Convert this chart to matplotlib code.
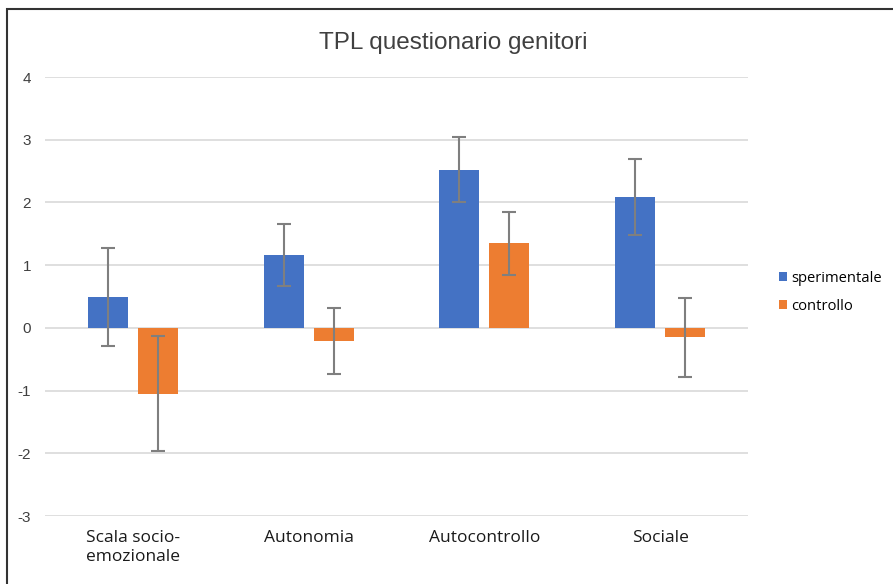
import numpy as np
import matplotlib.pyplot as plt
from matplotlib.patches import Rectangle

plt.rcParams["axes.unicode_minus"] = False

categories = ["Scala socio-\nemozionale", "Autonomia", "Autocontrollo", "Sociale"]
sperimentale = [0.49, 1.16, 2.52, 2.09]
sperimentale_err = [0.78, 0.50, 0.52, 0.61]
controllo = [-1.05, -0.21, 1.35, -0.15]
controllo_err = [0.92, 0.52, 0.50, 0.63]

fig = plt.figure(figsize=(8.93, 5.84), dpi=100)
ax = fig.add_axes([0.0504, 0.1164, 0.7872, 0.7517])

x = np.arange(len(categories))
w = 0.227
off = 0.142
ekw = dict(ecolor="#7f7f7f", elinewidth=1.5, capsize=5, capthick=1.5)
ax.bar(x - off, sperimentale, w, color="#4472C4", yerr=sperimentale_err,
       error_kw=ekw, label="sperimentale", zorder=3)
ax.bar(x + off, controllo, w, color="#ED7D31", yerr=controllo_err,
       error_kw=ekw, label="controllo", zorder=3)

ax.set_xlim(-0.5, 3.5)
ax.set_ylim(-3, 4)
ax.set_yticks(range(-3, 5))
ax.yaxis.grid(True, color="#d9d9d9", linewidth=1.2, zorder=0)
for s in ax.spines.values():
    s.set_visible(False)
ax.tick_params(axis="both", length=0)
ax.tick_params(axis="y", pad=10, labelsize=11, labelcolor="#404040")
for t in ax.get_yticklabels():
    t.set_fontfamily("Liberation Sans")

ax.set_xticks(x)
ax.set_xticklabels(categories, fontsize=12.5, family="Open Sans",
                   color="#1a1a1a", multialignment="left", linespacing=1.25)
ax.tick_params(axis="x", pad=10)

fig.text(0.508, 0.926, "TPL questionario genitori", ha="center", va="center",
         fontsize=17.5, family="Liberation Sans", color="#404040")

ax.legend(loc="center left", bbox_to_anchor=(1.03, 0.51), frameon=False,
          handlelength=0.55, handleheight=0.55, handletextpad=0.25,
          labelspacing=0.9, borderaxespad=0.3,
          prop={"family": "Open Sans", "size": 10.6})

fig.patches.append(Rectangle((7 / 893, -0.05), 1.1, 1.05 - 9 / 584,
                             transform=fig.transFigure, fill=False,
                             edgecolor="#333333", linewidth=1.5))

fig.savefig("out.png", dpi=100)
